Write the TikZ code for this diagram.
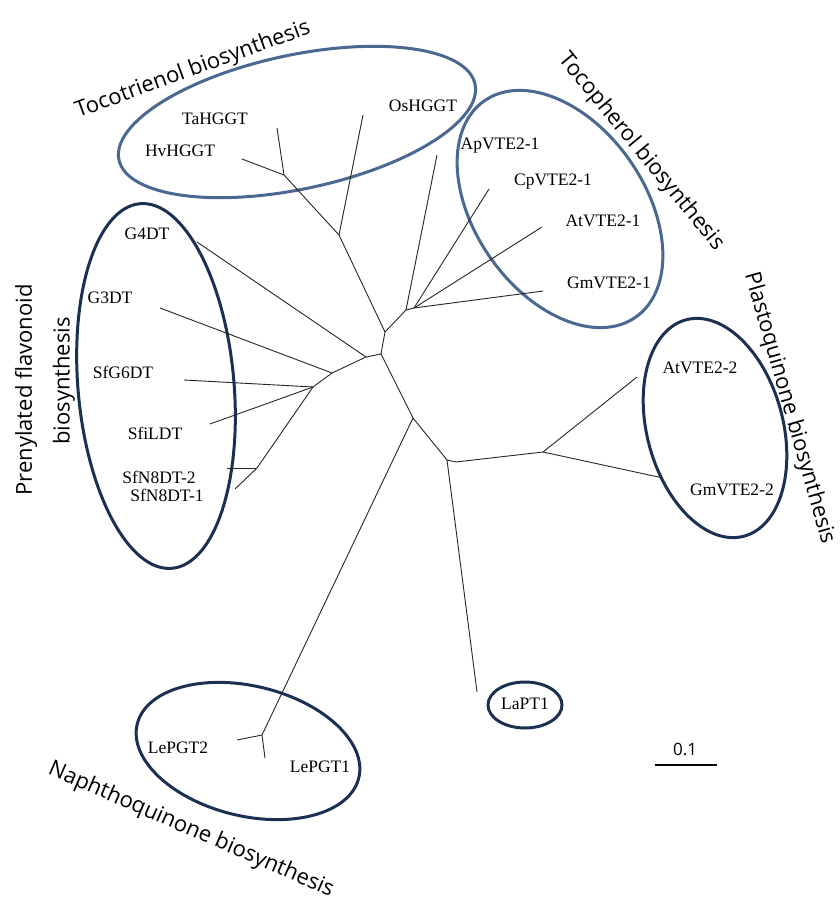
\documentclass[tikz,border=0pt]{standalone}
\usepackage{fontspec}
\setmainfont{Liberation Serif}
\newfontfamily\grpfont{Open Sans}
\definecolor{lightring}{RGB}{74,104,145}
\definecolor{darkring}{RGB}{28,48,82}
\tikzset{
  branch/.style={line width=0.9pt, black!85},
  ringA/.style={line width=3pt, lightring},
  ringB/.style={line width=3pt, darkring},
  taxon/.style={font=\fontsize{17.5}{20}\selectfont, inner sep=0pt},
  grp/.style={font=\grpfont\fontsize{22}{26}\selectfont, inner sep=0pt},
  scalelab/.style={font=\grpfont\fontsize{17}{20}\selectfont, inner sep=0pt},
}
\begin{document}
\begin{tikzpicture}[x=1pt,y=1pt]
\useasboundingbox (0,0) rectangle (839,-901);

% group ellipses
\draw[ringA, rotate around={12:(297,-122)}] (297,-122) ellipse [x radius=182, y radius=67];
\draw[ringA, rotate around={-55:(560,-209)}] (560,-209) ellipse [x radius=132, y radius=85];
\draw[ringB, rotate around={5:(156,-386)}] (156,-386) ellipse [x radius=78, y radius=183];
\draw[ringB, rotate around={15:(715,-428)}] (715,-428) ellipse [x radius=68, y radius=112];
\draw[ringB, rotate around={-13.6:(248,-751)}] (248,-751) ellipse [x radius=114, y radius=65];
\draw[ringB] (525,-705) ellipse [x radius=37, y radius=23];

% internal nodes
\coordinate (t1) at (284,-175);
\coordinate (t2) at (339,-235);
\coordinate (t3) at (385,-332);
\coordinate (v1) at (406,-310);
\coordinate (v2) at (414,-308);
\coordinate (t4) at (381,-354);
\coordinate (p1) at (366,-357);
\coordinate (p2) at (332,-373);
\coordinate (p3) at (313,-387);
\coordinate (p4) at (257,-468);
\coordinate (t5) at (413,-418);
\coordinate (n1) at (262,-735);
\coordinate (t6) at (447,-460);
\coordinate (q0) at (456,-462);
\coordinate (q1) at (543,-452);

% leaf tips
\coordinate (xTa) at (277,-128);
\coordinate (xHv) at (242,-159);
\coordinate (xOs) at (363,-115);
\coordinate (xAp) at (437,-155);
\coordinate (xCp) at (489,-189);
\coordinate (xAtA) at (542,-227);
\coordinate (xGmA) at (543,-291);
\coordinate (xGfour) at (197,-242);
\coordinate (xGthree) at (160,-308);
\coordinate (xGsix) at (184,-380);
\coordinate (xLDT) at (210,-424);
\coordinate (xNtwo) at (227,-468);
\coordinate (xNone) at (235,-489);
\coordinate (xLeTwo) at (237,-740);
\coordinate (xLeOne) at (265,-758);
\coordinate (xLa) at (477,-692);
\coordinate (xAtB) at (637,-377);
\coordinate (xGmB) at (663,-478);

% tree branches
\draw[branch] (xTa) -- (t1);
\draw[branch] (xHv) -- (t1);
\draw[branch] (t1) -- (t2);
\draw[branch] (xOs) -- (t2);
\draw[branch] (t2) -- (t3);
\draw[branch] (t3) -- (v1);
\draw[branch] (xAp) -- (v1);
\draw[branch] (v1) -- (v2);
\draw[branch] (xCp) -- (v2);
\draw[branch] (xAtA) -- (v2);
\draw[branch] (xGmA) -- (v2);
\draw[branch] (t3) -- (t4);
\draw[branch] (t4) -- (p1);
\draw[branch] (xGfour) -- (p1);
\draw[branch] (p1) -- (p2);
\draw[branch] (xGthree) -- (p2);
\draw[branch] (p2) -- (p3);
\draw[branch] (xGsix) -- (p3);
\draw[branch] (xLDT) -- (p3);
\draw[branch] (p3) -- (p4);
\draw[branch] (xNtwo) -- (p4);
\draw[branch] (xNone) -- (p4);
\draw[branch] (t4) -- (t5);
\draw[branch] (t5) -- (n1);
\draw[branch] (xLeTwo) -- (n1);
\draw[branch] (xLeOne) -- (n1);
\draw[branch] (t5) -- (t6);
\draw[branch] (t6) -- (xLa);
\draw[branch] (t6) -- (q0) -- (q1);
\draw[branch] (xAtB) -- (q1);
\draw[branch] (xGmB) -- (q1);

% taxon labels
\node[taxon] (lTa) at (215,-119) {TaHGGT};
\node[taxon] (lHv) at (180,-151) {HvHGGT};
\node[taxon] (lOs) at (423,-106) {OsHGGT};
\node[taxon] (lAp) at (500,-146) {ApVTE2-1};
\node[taxon] (lCp) at (553,-182) {CpVTE2-1};
\node[taxon] (lAtA) at (603,-221) {AtVTE2-1};
\node[taxon] (lGmA) at (609,-283) {GmVTE2-1};
\node[taxon] (lGfour) at (147,-234) {G4DT};
\node[taxon] (lGthree) at (110,-298) {G3DT};
\node[taxon] (lGsix) at (123,-372) {SfG6DT};
\node[taxon] (lLDT) at (155,-433) {SfiLDT};
\node[taxon] (lNtwo) at (159,-477) {SfN8DT-2};
\node[taxon] (lNone) at (167,-495) {SfN8DT-1};
\node[taxon] (lAtB) at (700,-368) {AtVTE2-2};
\node[taxon] (lGmB) at (732,-490) {GmVTE2-2};
\node[taxon] (lLa) at (525,-704) {LaPT1};
\node[taxon] (lLeTwo) at (178,-748) {LePGT2};
\node[taxon] (lLeOne) at (320,-767) {LePGT1};

% group titles
\node[grp, rotate=20] (gTocotrienol) at (193,-70) {Tocotrienol biosynthesis};
\node[grp, rotate=-50.6] (gTocopherol) at (641,-152) {Tocopherol biosynthesis};
\node[grp, rotate=90] (gPrenA) at (26,-390) {Prenylated flavonoid};
\node[grp, rotate=90] (gPrenB) at (64,-381) {biosynthesis};
\node[grp, rotate=-74] (gPlasto) at (789,-408) {Plastoquinone biosynthesis};
\node[grp, rotate=-23.5] (gNaphtho) at (191,-830) {Naphthoquinone biosynthesis};

% scale bar
\coordinate (sbL) at (655,-765);
\coordinate (sbR) at (717,-765);
\draw[line width=1.5pt] (sbL) -- (sbR);
\node[scalelab] (sbLab) at (685,-749) {0.1};
\end{tikzpicture}
\end{document}
